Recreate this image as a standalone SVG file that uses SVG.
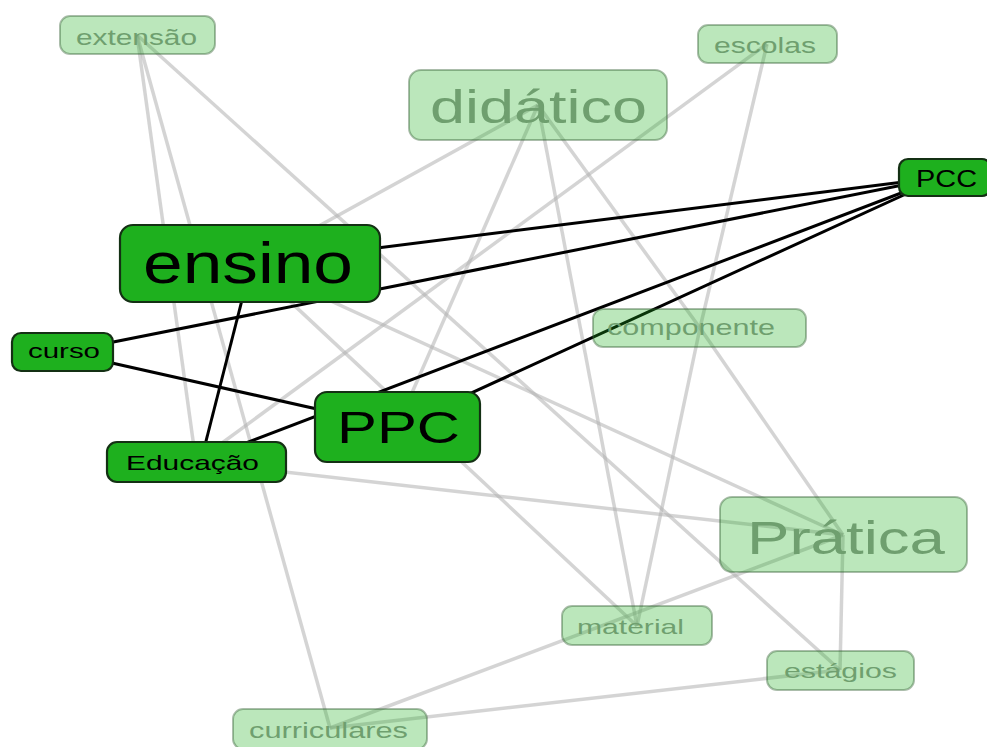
<svg xmlns="http://www.w3.org/2000/svg" width="987" height="747" viewBox="0 0 987 747">
<style>
.g{stroke:#b0b0b0;stroke-opacity:0.55;stroke-width:3.5;fill:none}
.k{stroke:#000;stroke-width:3;fill:none}
.dn rect{fill:#1eb01e;stroke:#143014;stroke-width:2.2}
.dn text{fill:#000;font-family:"Liberation Sans",Arial,sans-serif}
.ln rect{fill:#1eb01e;fill-opacity:0.3;stroke:#2d5a2d;stroke-opacity:0.4;stroke-width:2}
.ln text{fill:#6f9f6f;font-family:"Liberation Sans",Arial,sans-serif}
</style>
<rect width="987" height="747" fill="#fff"/>
<g id="connectors">
<line class="g" x1="137" y1="35" x2="196" y2="462"/>
<line class="g" x1="137" y1="35" x2="330" y2="728"/>
<line class="g" x1="137" y1="35" x2="840" y2="670"/>
<line class="g" x1="538" y1="105" x2="250" y2="264"/>
<line class="g" x1="538" y1="105" x2="397" y2="427"/>
<line class="g" x1="538" y1="105" x2="637" y2="626"/>
<line class="g" x1="538" y1="105" x2="700" y2="328"/>
<line class="g" x1="700" y1="328" x2="843" y2="535"/>
<line class="g" x1="767" y1="44" x2="700" y2="328"/>
<line class="g" x1="700" y1="328" x2="637" y2="626"/>
<line class="g" x1="767" y1="44" x2="196" y2="462"/>
<line class="g" x1="250" y1="264" x2="843" y2="535"/>
<line class="g" x1="250" y1="264" x2="637" y2="626"/>
<line class="g" x1="196" y1="462" x2="843" y2="535"/>
<line class="g" x1="330" y1="728" x2="843" y2="535"/>
<line class="g" x1="330" y1="728" x2="840" y2="670"/>
<line class="g" x1="843" y1="535" x2="840" y2="670"/>
<line class="k" x1="250" y1="264" x2="943" y2="177"/>
<line class="k" x1="63" y1="352" x2="943" y2="177"/>
<line class="k" x1="63" y1="352" x2="397" y2="427"/>
<line class="k" x1="242" y1="300" x2="205" y2="445"/>
<line class="k" x1="196" y1="462" x2="943" y2="177"/>
<line class="k" x1="397" y1="427" x2="943" y2="177"/>
</g>
<g id="node-extensao" class="ln"><rect x="60" y="16" width="155" height="38" rx="10"/><text x="76" y="45" font-size="22" textLength="121" lengthAdjust="spacingAndGlyphs">extensão</text></g>
<g id="node-escolas" class="ln"><rect x="698" y="25" width="139" height="38" rx="10"/><text x="714" y="53" font-size="22" textLength="102" lengthAdjust="spacingAndGlyphs">escolas</text></g>
<g id="node-didatico" class="ln"><rect x="409" y="70" width="258" height="70" rx="12"/><text x="430" y="123" font-size="46" textLength="217" lengthAdjust="spacingAndGlyphs">didático</text></g>
<g id="node-componente" class="ln"><rect x="593" y="309" width="213" height="38" rx="10"/><text x="607" y="335" font-size="22" textLength="168" lengthAdjust="spacingAndGlyphs">componente</text></g>
<g id="node-pratica" class="ln"><rect x="720" y="497" width="247" height="75" rx="12"/><text x="747" y="554" font-size="47" textLength="198" lengthAdjust="spacingAndGlyphs">Prática</text></g>
<g id="node-material" class="ln"><rect x="562" y="606" width="150" height="39" rx="10"/><text x="577" y="634" font-size="21" textLength="107" lengthAdjust="spacingAndGlyphs">material</text></g>
<g id="node-estagios" class="ln"><rect x="767" y="651" width="147" height="39" rx="10"/><text x="784" y="678" font-size="21" textLength="113" lengthAdjust="spacingAndGlyphs">estágios</text></g>
<g id="node-curriculares" class="ln"><rect x="233" y="709" width="194" height="40" rx="10"/><text x="249" y="738" font-size="22" textLength="159" lengthAdjust="spacingAndGlyphs">curriculares</text></g>
<g id="node-PCC" class="dn"><rect x="899" y="159" width="92" height="37" rx="9"/><text x="916" y="187" font-size="23" textLength="61" lengthAdjust="spacingAndGlyphs">PCC</text></g>
<g id="node-ensino" class="dn"><rect x="120" y="225" width="260" height="77" rx="13"/><text x="143" y="283" font-size="57" textLength="210" lengthAdjust="spacingAndGlyphs">ensino</text></g>
<g id="node-curso" class="dn"><rect x="12" y="333" width="101" height="38" rx="9"/><text x="28" y="358" font-size="20" textLength="72" lengthAdjust="spacingAndGlyphs">curso</text></g>
<g id="node-PPC" class="dn"><rect x="315" y="392" width="165" height="70" rx="12"/><text x="337" y="443" font-size="44" textLength="123" lengthAdjust="spacingAndGlyphs">PPC</text></g>
<g id="node-educacao" class="dn"><rect x="107" y="442" width="179" height="40" rx="10"/><text x="126" y="470" font-size="21" textLength="133" lengthAdjust="spacingAndGlyphs">Educação</text></g>
</svg>
